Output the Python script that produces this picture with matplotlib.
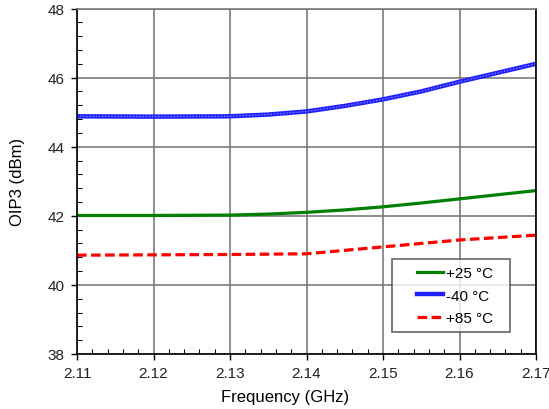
import matplotlib
matplotlib.use("Agg")
import matplotlib.pyplot as plt
from matplotlib.ticker import MultipleLocator
from matplotlib.legend_handler import HandlerLine2D

plt.rcParams['font.family'] = ['Liberation Sans', 'DejaVu Sans']

freq = [2.11, 2.12, 2.13, 2.135, 2.14, 2.145, 2.15, 2.155, 2.16, 2.165, 2.17]
oip3_p25 = [42.01, 42.01, 42.02, 42.05, 42.10, 42.17, 42.26, 42.37, 42.49, 42.61, 42.73]
oip3_m40 = [44.88, 44.87, 44.88, 44.93, 45.02, 45.18, 45.37, 45.60, 45.88, 46.14, 46.40]
oip3_p85 = [40.86, 40.87, 40.88, 40.89, 40.90, 41.00, 41.10, 41.20, 41.30, 41.37, 41.44]
labels = ['+25 °C', '-40 °C', '+85 °C']
xticks = [2.11, 2.12, 2.13, 2.14, 2.15, 2.16, 2.17]
yticks = [38, 40, 42, 44, 46, 48]

fig = plt.figure(figsize=(5.49, 4.10), dpi=100)
ax = fig.add_axes([77/549, 55/410, 459/549, 345.5/410])

l1, = ax.plot(freq, oip3_p25, color='#008000', lw=2.3, label=labels[0])
l2, = ax.plot(freq, oip3_m40, color='#2020ff', lw=3.2, label=labels[1])
ax.plot(freq, oip3_m40, color='#8c8cff', lw=0.9, ls=(0, (1, 1.5)))
l3, = ax.plot(freq, oip3_p85, color='#ff0000', lw=2.3, ls=(0, (3, 1.4)), label=labels[2])

ax.set_xlim(2.11, 2.17)
ax.set_ylim(38, 48)
ax.set_xticks(xticks)
ax.set_xticklabels([f'{v:.2f}' for v in xticks])
ax.set_yticks(yticks)
ax.xaxis.set_minor_locator(MultipleLocator(0.002))
ax.yaxis.set_minor_locator(MultipleLocator(0.4))
ax.grid(True, which='major', color='#7a7a7a', lw=1.2)
ax.tick_params(which='major', direction='out', length=4, width=1, labelsize=11,
               color='black', labelcolor='#222222')
ax.tick_params(which='minor', direction='in', length=3.5, width=0.8, color='black')
ax.tick_params(axis='x', which='major', pad=5)
ax.tick_params(axis='y', which='major', pad=5)
for s in ['left', 'bottom', 'right']:
    ax.spines[s].set_color('black')
    ax.spines[s].set_linewidth(1.2)
ax.spines['top'].set_color('#7a7a7a')
ax.spines['top'].set_linewidth(1.2)

ax.set_xlabel('Frequency (GHz)', fontsize=12)
ax.xaxis.set_label_coords(0.453, -0.102)
ax.set_ylabel('OIP3 (dBm)', fontsize=12, labelpad=16)

hm = {l1: HandlerLine2D(xpad=1.2), l2: HandlerLine2D(xpad=1.2), l3: HandlerLine2D(xpad=1.2)}
leg = ax.legend(handles=[l1, l2, l3], handler_map=hm,
                loc='lower left', bbox_to_anchor=(0.686, 0.064, 0.257, 0.217),
                mode='expand', fontsize=11,
                frameon=True, fancybox=False, edgecolor='#404040',
                handlelength=2.9, handletextpad=0.2, labelspacing=0.55,
                borderpad=0.45, borderaxespad=0.0)
leg.get_frame().set_linewidth(1.2)

fig.savefig('out.png', dpi=100)
